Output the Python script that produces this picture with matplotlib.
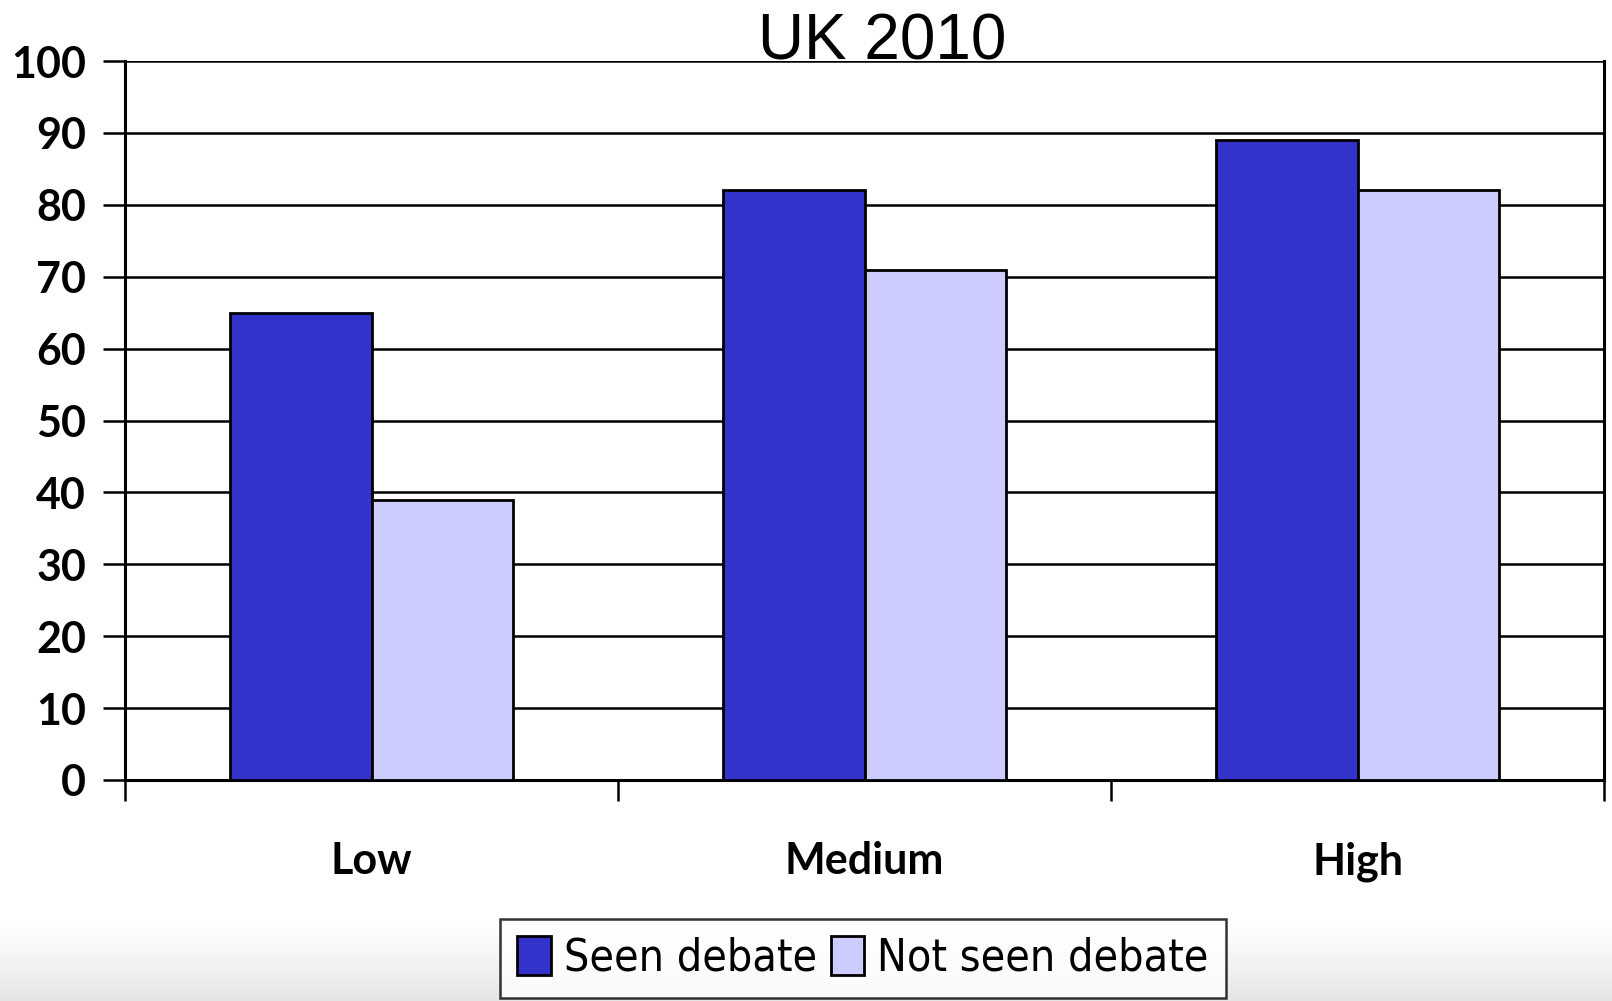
import numpy as np
import matplotlib
matplotlib.use("Agg")
import matplotlib.pyplot as plt
from matplotlib.ticker import FixedLocator
from matplotlib import font_manager as fm

categories = ["Low", "Medium", "High"]
seen = [65, 82, 89]
not_seen = [39, 71, 82]
series_names = ["Seen debate", "Not seen debate"]
yticks = [0, 10, 20, 30, 40, 50, 60, 70, 80, 90, 100]
title = "UK 2010"

# find a condensed font if any is installed
cond_prop = None
for f in fm.fontManager.ttflist:
    n = f.name.lower()
    fn = f.fname.lower()
    if ("narrow" in n or "condensed" in n or "condensed" in fn or "narrow" in fn) and f.weight in (400, "normal", "regular") and f.style == "normal":
        cond_prop = fm.FontProperties(fname=f.fname, size=32)
        break
if cond_prop is None:
    cond_prop = fm.FontProperties(family="Liberation Sans", size=30)

W, H = 1612, 1001
fig = plt.figure(figsize=(W / 100, H / 100), dpi=100)

bg = fig.add_axes([0, 0, 1, 1], zorder=-10)
grad = np.ones((H, 1))
ys = np.arange(H)
start = 910
t = np.clip((ys - start) / (H - start), 0, 1)
grad[:, 0] = 1 - 0.11 * t ** 1.4
bg.imshow(grad, aspect="auto", cmap="gray", vmin=0, vmax=1, extent=[0, 1, 1, 0])
bg.axis("off")

left, right = 125 / W, 1604 / W
top, bottom = 1 - 61 / H, 1 - 780 / H
ax = fig.add_axes([left, bottom, right - left, top - bottom])
ax.set_facecolor("none")

x = np.arange(len(categories))
w = 0.288
ax.bar(x - w / 2, seen, w, color="#3333CC", edgecolor="black", linewidth=2, label=series_names[0], zorder=3)
ax.bar(x + w / 2, not_seen, w, color="#CCCCFF", edgecolor="black", linewidth=2, label=series_names[1], zorder=3)

ax.set_xlim(-0.5, len(categories) - 0.5)
ax.set_ylim(0, 100)
ax.set_yticks(yticks)
ax.yaxis.grid(True, color="black", linewidth=1.8, zorder=1)
ax.set_axisbelow(True)

for s in ["left", "right"]:
    ax.spines[s].set_linewidth(2.2)
ax.spines["top"].set_visible(False)
ax.spines["bottom"].set_linewidth(2.2)

ax.set_xticks(x)
ax.set_xticklabels(categories)
ax.xaxis.set_minor_locator(FixedLocator(np.arange(len(categories) + 1) - 0.5))
ax.tick_params(axis="x", which="major", length=0, pad=44)
ax.tick_params(axis="x", which="minor", length=15, width=1.8, direction="out")
ax.tick_params(axis="y", length=16, width=1.8, pad=12)

tick_fp = fm.FontProperties(family="Lato", weight="bold", size=31)
for lab in ax.get_yticklabels() + ax.get_xticklabels():
    lab.set_fontproperties(tick_fp)

fig.text(882 / W, 1 - 60 / H, title, ha="center", va="baseline",
         fontsize=46, family="Liberation Sans")

leg = fig.legend(loc="center", bbox_to_anchor=(863 / W, 1 - 958 / H),
                 ncol=2, frameon=True, fancybox=False, edgecolor="black",
                 prop=cond_prop,
                 handlelength=0.75, handleheight=0.95, handletextpad=0.3,
                 columnspacing=0.3, borderpad=0.4, borderaxespad=0)
leg.get_frame().set_linewidth(1.8)
leg.get_frame().set_facecolor("white")

fig.savefig("out.png", dpi=100)
